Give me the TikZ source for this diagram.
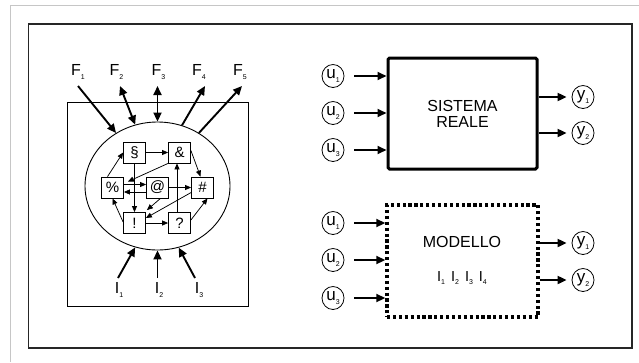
\documentclass[tikz,border=0pt]{standalone}
\usepackage{fontspec}
\setmainfont{Liberation Sans}
\usetikzlibrary{arrows.meta,shapes.geometric}
\newcommand{\sbs}[1]{\raisebox{-0.45ex}{\fontsize{7}{7}\selectfont #1}}
\tikzset{
  lbl/.style={inner sep=0pt, font=\fontsize{16}{16}\selectfont},
  symbox/.style={draw, line width=0.8pt, minimum width=22pt, minimum height=21pt, inner sep=0pt, font=\fontsize{15}{15}\selectfont},
  circ/.style={draw, ellipse, line width=0.8pt, minimum width=22pt, minimum height=23pt, inner sep=0pt, font=\fontsize{17}{17}\selectfont},
  bigarr/.style={line width=1.9pt, -{Triangle[length=9pt,width=8pt]}},
  dblarr/.style={line width=1.9pt, {Triangle[length=9pt,width=8pt]}-{Triangle[length=9pt,width=8pt]}},
  smallarr/.style={line width=0.75pt, -{Triangle[length=6pt,width=5pt]}},
}
\begin{document}
\begin{tikzpicture}[x=1pt,y=-1pt]
\useasboundingbox (0,0) rectangle (639,362);
% page lines
\draw[gray!45, line width=0.8pt] (10,362) -- (10,5) -- (639,5);
% outer frame
\draw[line width=1.8pt, black!85] (28.5,24) rectangle (632,348);

% ---------- left part ----------
\draw[line width=0.9pt] (67,102) rectangle (248,306);
\node[draw, ellipse, line width=0.9pt, minimum width=145pt, minimum height=128pt, inner sep=0pt] (E) at (157.5,186) {};

\node[symbox] (S) at (134.5,152.5) {\S};
\node[symbox] (A) at (179.5,152.5) {\&};
\node[symbox] (P) at (112.5,187.5) {\%};
\node[symbox] (T) at (157.5,187.5) {@};
\node[symbox] (H) at (202.5,187.5) {\#};
\node[symbox] (X) at (134.5,223) {!};
\node[symbox] (Q) at (179.5,223) {?};

\draw[smallarr] (S.east) -- (A.west);
\draw[smallarr] (A.south west) -- ([xshift=4pt,yshift=-5pt]P.north east);
\draw[smallarr] (S.south) -- (X.north);
\draw[smallarr] ([xshift=-5pt]P.north) -- (S.west);
\draw[smallarr] ([yshift=3pt]P.east) -- ([yshift=3pt]T.west);
\draw[smallarr] ([yshift=-4.5pt]T.west) -- ([yshift=-4.5pt]P.east);
\draw[smallarr] (T.east) -- (H.west);
\draw[smallarr] ([yshift=2pt]A.east) -- ([xshift=-2pt]H.north);
\draw[smallarr] ([xshift=3pt]T.south) -- ([xshift=1pt,yshift=2pt]X.north east);
\draw[smallarr] ([yshift=-5pt]H.west) -- ([yshift=5pt]X.east);
\draw[smallarr] ([yshift=1pt]X.west) -- (P.south);
\draw[smallarr] (X.east) -- (Q.west);
\draw[smallarr] ([xshift=-2.5pt]Q.north) -- ([xshift=-2.5pt]A.south);
\draw[smallarr] ([yshift=3pt]Q.east) -- ([xshift=5pt]H.south);

% F labels
\node[lbl] (F1) at (78,72) {F\sbs{1}};
\node[lbl] (F2) at (116.5,72) {F\sbs{2}};
\node[lbl] (F3) at (158.5,72) {F\sbs{3}};
\node[lbl] (F4) at (199,72) {F\sbs{4}};
\node[lbl] (F5) at (240,72) {F\sbs{5}};
\coordinate (f1) at (78,86);
\coordinate (f2) at (120,86);
\coordinate (f3) at (157.5,86);
\coordinate (f4) at (205,86);
\coordinate (f5) at (242,86);
\draw[bigarr] (f1) -- (E.128);
\draw[dblarr] (f2) -- (E.110.5);
\draw[dblarr] (f3) -- (E.90);
\draw[bigarr] (E.68.5) -- (f4);
\draw[bigarr] (E.52.5) -- (f5);

% I labels
\node[lbl] (I1) at (119,290) {I\sbs{1}};
\node[lbl] (I2) at (159,290) {I\sbs{2}};
\node[lbl] (I3) at (199,290) {I\sbs{3}};
\coordinate (i1) at (118,278);
\coordinate (i2) at (157.5,278);
\coordinate (i3) at (195,278);
\draw[bigarr] (i1) -- (E.-110);
\draw[bigarr] (i2) -- (E.-90);
\draw[bigarr] (i3) -- (E.-71);

% ---------- sistema reale ----------
\node[draw, line width=3pt, rounded corners=1.5pt, minimum width=149pt, minimum height=111pt, align=center, font=\fontsize{16}{16}\selectfont] (SR) at (462.5,113.5) {SISTEMA\\REALE};
\node[circ] (u1) at (333,76) {u\sbs{1}};
\node[circ] (u2) at (333,113) {u\sbs{2}};
\node[circ] (u3) at (333,150) {u\sbs{3}};
\node[circ] (y1) at (583,97) {y\sbs{1}};
\node[circ] (y2) at (583,133) {y\sbs{2}};
\draw[bigarr, shorten <=10pt] (u1.east) -- (SR.west |- u1.east);
\draw[bigarr, shorten <=10pt] (u2.east) -- (SR.west |- u2.east);
\draw[bigarr, shorten <=10pt] (u3.east) -- (SR.west |- u3.east);
\draw[bigarr, shorten >=5pt] (SR.east |- y1.west) -- (y1.west);
\draw[bigarr, shorten >=5pt] (SR.east |- y2.west) -- (y2.west);

% ---------- modello ----------
\node[draw, line width=3.4pt, dash pattern=on 3.2pt off 2.7pt, minimum width=151pt, minimum height=112pt] (MD) at (462.5,261) {};
\node[lbl, font=\fontsize{16}{16}\selectfont] (mt) at (462,242) {MODELLO};
\node[lbl, font=\fontsize{14.5}{14.5}\selectfont] (mi) at (462,278) {I\sbs{1}\hspace{6pt}I\sbs{2}\hspace{6pt}I\sbs{3}\hspace{6pt}I\sbs{4}};
\node[circ] (v1) at (333,223) {u\sbs{1}};
\node[circ] (v2) at (333,260) {u\sbs{2}};
\node[circ] (v3) at (333,298) {u\sbs{3}};
\node[circ] (w1) at (583,243) {y\sbs{1}};
\node[circ] (w2) at (583,280) {y\sbs{2}};
\draw[bigarr, shorten <=10pt] (v1.east) -- (MD.west |- v1.east);
\draw[bigarr, shorten <=10pt] (v2.east) -- (MD.west |- v2.east);
\draw[bigarr, shorten <=10pt] (v3.east) -- (MD.west |- v3.east);
\draw[bigarr, shorten >=5pt] (MD.east |- w1.west) -- (w1.west);
\draw[bigarr, shorten >=5pt] (MD.east |- w2.west) -- (w2.west);
\end{tikzpicture}
\end{document}
